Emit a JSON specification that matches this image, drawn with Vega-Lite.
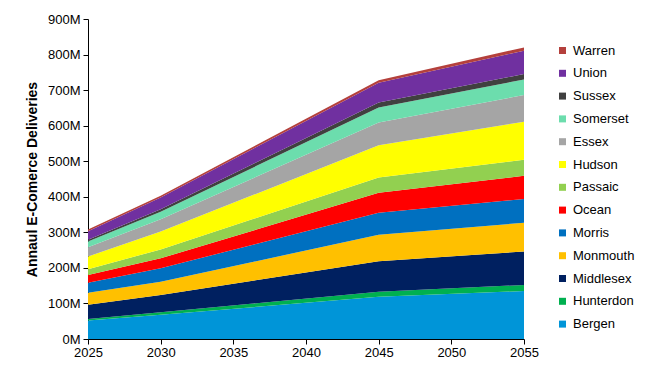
{
  "$schema": "https://vega.github.io/schema/vega-lite/v6.json",
  "width": 436,
  "height": 320,
  "autosize": {"type": "none"},
  "padding": {"left": 88, "top": 19, "right": 123, "bottom": 29},
  "background": "white",
  "config": {
    "view": {"stroke": null},
    "font": "Liberation Sans"
  },
  "data": {
    "values": [
      {"county": "Bergen", "idx": 1, "year": 2025, "value": 52},
      {"county": "Bergen", "idx": 1, "year": 2030, "value": 68},
      {"county": "Bergen", "idx": 1, "year": 2045, "value": 119},
      {"county": "Bergen", "idx": 1, "year": 2055, "value": 135},
      {"county": "Hunterdon", "idx": 2, "year": 2025, "value": 4},
      {"county": "Hunterdon", "idx": 2, "year": 2030, "value": 7},
      {"county": "Hunterdon", "idx": 2, "year": 2045, "value": 14},
      {"county": "Hunterdon", "idx": 2, "year": 2055, "value": 17},
      {"county": "Middlesex", "idx": 3, "year": 2025, "value": 40},
      {"county": "Middlesex", "idx": 3, "year": 2030, "value": 49},
      {"county": "Middlesex", "idx": 3, "year": 2045, "value": 86},
      {"county": "Middlesex", "idx": 3, "year": 2055, "value": 94},
      {"county": "Monmouth", "idx": 4, "year": 2025, "value": 34},
      {"county": "Monmouth", "idx": 4, "year": 2030, "value": 37},
      {"county": "Monmouth", "idx": 4, "year": 2045, "value": 74},
      {"county": "Monmouth", "idx": 4, "year": 2055, "value": 81},
      {"county": "Morris", "idx": 5, "year": 2025, "value": 28},
      {"county": "Morris", "idx": 5, "year": 2030, "value": 38},
      {"county": "Morris", "idx": 5, "year": 2045, "value": 62},
      {"county": "Morris", "idx": 5, "year": 2055, "value": 67},
      {"county": "Ocean", "idx": 6, "year": 2025, "value": 22},
      {"county": "Ocean", "idx": 6, "year": 2030, "value": 28},
      {"county": "Ocean", "idx": 6, "year": 2045, "value": 56},
      {"county": "Ocean", "idx": 6, "year": 2055, "value": 65},
      {"county": "Passaic", "idx": 7, "year": 2025, "value": 16},
      {"county": "Passaic", "idx": 7, "year": 2030, "value": 25},
      {"county": "Passaic", "idx": 7, "year": 2045, "value": 43},
      {"county": "Passaic", "idx": 7, "year": 2055, "value": 45},
      {"county": "Hudson", "idx": 8, "year": 2025, "value": 36},
      {"county": "Hudson", "idx": 8, "year": 2030, "value": 50},
      {"county": "Hudson", "idx": 8, "year": 2045, "value": 91},
      {"county": "Hudson", "idx": 8, "year": 2055, "value": 107},
      {"county": "Essex", "idx": 9, "year": 2025, "value": 26},
      {"county": "Essex", "idx": 9, "year": 2030, "value": 35},
      {"county": "Essex", "idx": 9, "year": 2045, "value": 64},
      {"county": "Essex", "idx": 9, "year": 2055, "value": 75},
      {"county": "Somerset", "idx": 10, "year": 2025, "value": 16},
      {"county": "Somerset", "idx": 10, "year": 2030, "value": 21},
      {"county": "Somerset", "idx": 10, "year": 2045, "value": 42},
      {"county": "Somerset", "idx": 10, "year": 2055, "value": 44},
      {"county": "Sussex", "idx": 11, "year": 2025, "value": 5},
      {"county": "Sussex", "idx": 11, "year": 2030, "value": 7},
      {"county": "Sussex", "idx": 11, "year": 2045, "value": 14},
      {"county": "Sussex", "idx": 11, "year": 2055, "value": 15},
      {"county": "Union", "idx": 12, "year": 2025, "value": 24},
      {"county": "Union", "idx": 12, "year": 2030, "value": 33},
      {"county": "Union", "idx": 12, "year": 2045, "value": 56},
      {"county": "Union", "idx": 12, "year": 2055, "value": 66},
      {"county": "Warren", "idx": 13, "year": 2025, "value": 5},
      {"county": "Warren", "idx": 13, "year": 2030, "value": 5},
      {"county": "Warren", "idx": 13, "year": 2045, "value": 7},
      {"county": "Warren", "idx": 13, "year": 2055, "value": 9}
    ]
  },
  "mark": {"type": "area", "interpolate": "linear"},
  "encoding": {
    "x": {
      "field": "year",
      "type": "quantitative",
      "scale": {"domain": [2025, 2055], "nice": false, "zero": false},
      "axis": {
        "values": [2025, 2030, 2035, 2040, 2045, 2050, 2055],
        "format": "d",
        "title": null,
        "grid": false,
        "labelFlush": false,
        "domainColor": "#000000",
        "tickColor": "#000000",
        "tickSize": 5,
        "labelFontSize": 13,
        "labelColor": "#000000",
        "labelPadding": 2
      }
    },
    "y": {
      "field": "value",
      "type": "quantitative",
      "stack": "zero",
      "scale": {"domain": [0, 900], "nice": false},
      "axis": {
        "values": [0, 100, 200, 300, 400, 500, 600, 700, 800, 900],
        "labelExpr": "datum.value + 'M'",
        "title": "Annaul E-Comerce Deliveries",
        "titleFontSize": 14,
        "titleFontWeight": "bold",
        "titleColor": "#000000",
        "titlePadding": 8,
        "grid": false,
        "labelFlush": false,
        "domainColor": "#000000",
        "tickColor": "#000000",
        "tickSize": 5,
        "labelFontSize": 13,
        "labelColor": "#000000",
        "labelPadding": 3
      }
    },
    "order": {"field": "idx", "type": "quantitative", "sort": "ascending"},
    "color": {
      "field": "county",
      "type": "nominal",
      "scale": {
        "domain": ["Warren", "Union", "Sussex", "Somerset", "Essex", "Hudson", "Passaic", "Ocean", "Morris", "Monmouth", "Middlesex", "Hunterdon", "Bergen"],
        "range": ["#B4403C", "#7030A0", "#404040", "#6CDDAD", "#A5A5A5", "#FFFF00", "#92D050", "#FF0000", "#0070C0", "#FFC000", "#002060", "#00B050", "#0095D8"]
      },
      "legend": {
        "orient": "none",
        "legendX": 468,
        "legendY": 25,
        "title": null,
        "symbolType": "square",
        "symbolSize": 49,
        "symbolStrokeWidth": 0,
        "labelFontSize": 13,
        "labelColor": "#000000",
        "rowPadding": 8.8,
        "labelOffset": 4
      }
    }
  }
}
